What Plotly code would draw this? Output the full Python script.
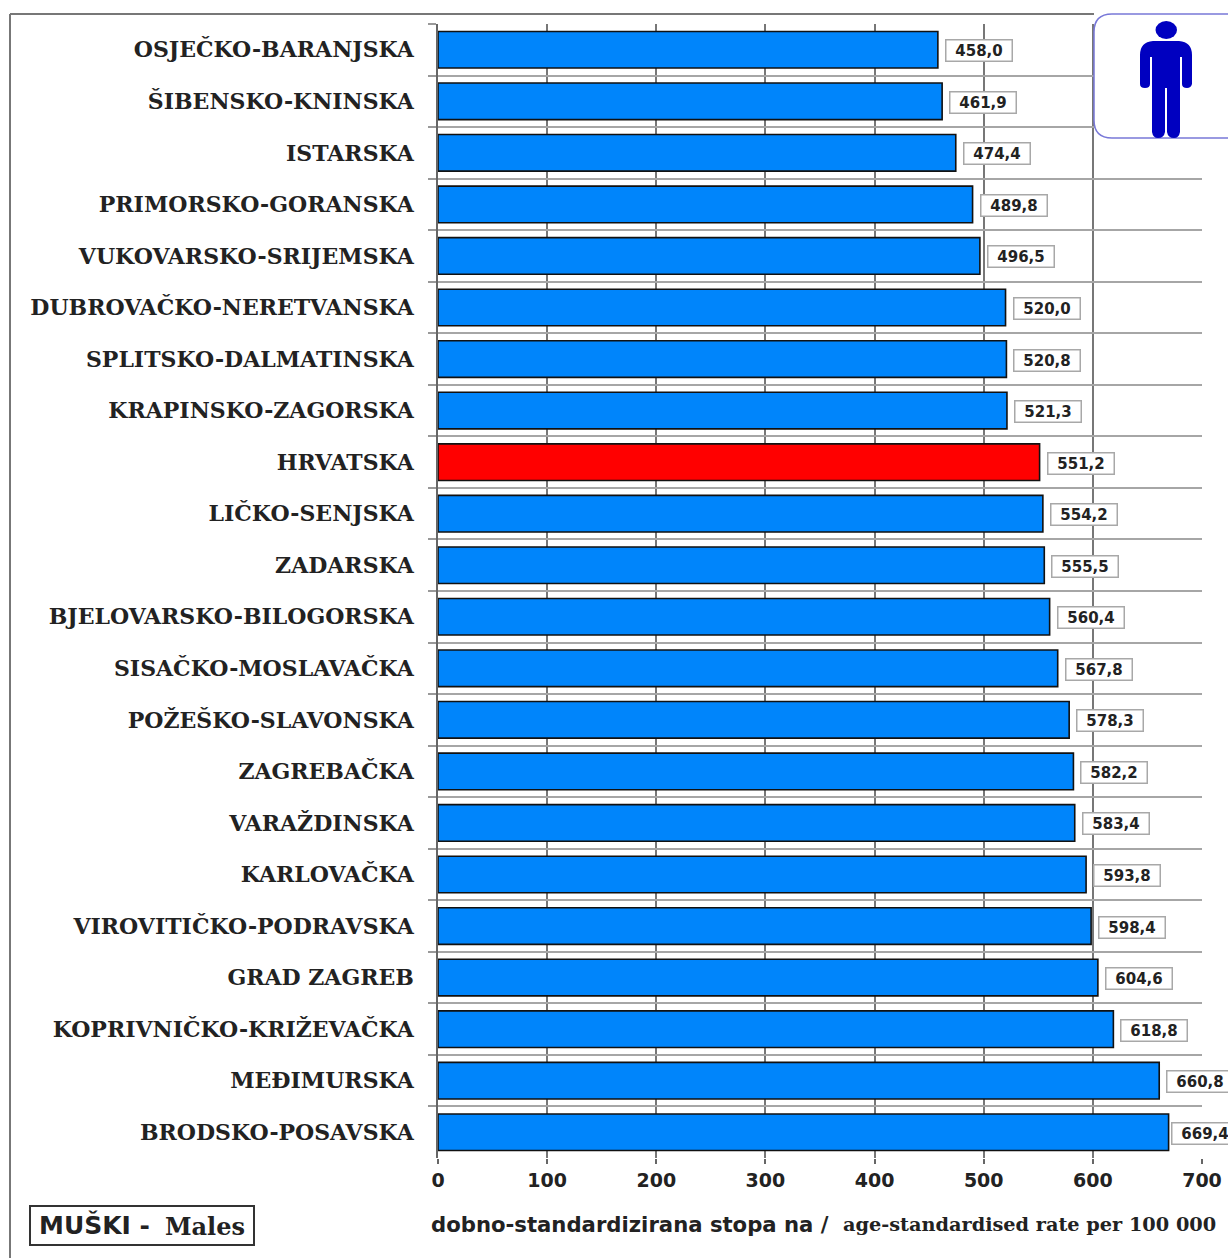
import plotly.graph_objects as go

categories = ["OSJEČKO-BARANJSKA","ŠIBENSKO-KNINSKA","ISTARSKA","PRIMORSKO-GORANSKA","VUKOVARSKO-SRIJEMSKA",
 "DUBROVAČKO-NERETVANSKA","SPLITSKO-DALMATINSKA","KRAPINSKO-ZAGORSKA","HRVATSKA","LIČKO-SENJSKA","ZADARSKA",
 "BJELOVARSKO-BILOGORSKA","SISAČKO-MOSLAVAČKA","POŽEŠKO-SLAVONSKA","ZAGREBAČKA","VARAŽDINSKA","KARLOVAČKA",
 "VIROVITIČKO-PODRAVSKA","GRAD ZAGREB","KOPRIVNIČKO-KRIŽEVAČKA","MEĐIMURSKA","BRODSKO-POSAVSKA"]
values = [458.0,461.9,474.4,489.8,496.5,520.0,520.8,521.3,551.2,554.2,555.5,560.4,567.8,578.3,582.2,583.4,593.8,598.4,604.6,618.8,660.8,669.4]
x_ticks = [0,100,200,300,400,500,600,700]
highlight = "HRVATSKA"

W, H = 1228, 1258
L, R, T, B = 438, 1202, 24, 1158
BLUE, RED, INK, GRID = "#0085fb", "#ff0000", "#222222", "#a6a6a6"
SANS, SERIF = "DejaVu Sans", "DejaVu Serif"

def px(x): return (x - L) / (R - L)
def py(y): return 1 - (y - T) / (B - T)

fig = go.Figure(go.Bar(
    x=values, y=categories, orientation="h",
    marker=dict(color=[RED if c == highlight else BLUE for c in categories], line=dict(color="#111111", width=1.6)),
    width=0.71, hoverinfo="skip"))

anns = []
for c, v in zip(categories, values):
    anns.append(dict(x=v, y=c, xref="x", yref="y", xanchor="left", xshift=7 if v < max(values) else 2, yshift=-1, showarrow=False,
        text=f"{v:.1f}".replace(".", ","), font=dict(family=SANS, size=15, color=INK, weight="bold"),
        width=65, height=20, align="center", valign="middle",
        bgcolor="white", bordercolor="#a8a8a8", borderwidth=1.5, borderpad=0))

def text(x, y, s, fam, size, anchor="left"):
    anns.append(dict(x=px(x), y=py(y), xref="paper", yref="paper", xanchor=anchor, yanchor="middle", showarrow=False,
        text=s, borderpad=0, font=dict(family=fam, size=size, color=INK, weight="bold")))

text(38, 1225, "MUŠKI -", SANS, 25)
text(164, 1226, "Males", SERIF, 24)
text(430, 1224, "dobno-standardizirana stopa na /", SANS, 21.2)
text(842, 1224, "age-standardised rate per 100 000", SERIF, 19.3)

def rect(x0, y0, x1, y1, **kw):
    return dict(type="rect", xref="paper", yref="paper", x0=px(x0), y0=py(y0), x1=px(x1), y1=py(y1), **kw)
def line(x0, y0, x1, y1, color="#777777", width=2):
    return dict(type="line", xref="paper", yref="paper", x0=px(x0), y0=py(y0), x1=px(x1), y1=py(y1), line=dict(color=color, width=width))
def pth(pts_path, **kw):
    return dict(type="path", xref="paper", yref="paper", path=pts_path, **kw)
def P(x, y): return f"{px(x):.5f},{py(y):.5f}"

r = 18
box = (f"M{P(1094+r,14)} L{P(1240,14)} L{P(1240,138)} L{P(1094+r,138)} "
       f"Q{P(1094,138)} {P(1094,138-r)} L{P(1094,14+r)} Q{P(1094,14)} {P(1094+r,14)} Z")
body = (f"M{P(1153,41)} L{P(1179,41)} Q{P(1192,42)} {P(1192,55)} L{P(1192,84)} Q{P(1191,88)} {P(1187,88)} "
        f"Q{P(1182,88)} {P(1182,84)} L{P(1182,57)} L{P(1180,57)} L{P(1180,132)} Q{P(1179,138)} {P(1174,138)} "
        f"Q{P(1168,138)} {P(1167,132)} L{P(1167,88)} L{P(1165,88)} L{P(1165,132)} Q{P(1164,138)} {P(1158,138)} "
        f"Q{P(1153,138)} {P(1152,132)} L{P(1152,57)} L{P(1150,57)} L{P(1150,84)} Q{P(1150,88)} {P(1145,88)} "
        f"Q{P(1140,88)} {P(1140,84)} L{P(1140,55)} Q{P(1140,42)} {P(1153,41)} Z")

shapes = [
    line(10, 14, 1094, 14), line(10, 14, 10, 1258),
    rect(30, 1206, 254, 1245, line=dict(color="#333333", width=2), fillcolor="white", layer="below"),
    pth(box, line=dict(color="#7878d8", width=1.5), fillcolor="white"),
    pth(body, line=dict(width=0), fillcolor="#0000c0"),
    dict(type="circle", xref="paper", yref="paper", x0=px(1155.5), x1=px(1177), y0=py(21), y1=py(39),
         line=dict(width=0), fillcolor="#0000c0"),
]

fig.update_layout(
    width=W, height=H, autosize=False, showlegend=False, plot_bgcolor="white", paper_bgcolor="white",
    margin=dict(l=L, r=W - R, t=T, b=H - B), annotations=anns, shapes=shapes,
    xaxis=dict(range=[0, 700], tickvals=x_ticks, ticks="outside", ticklen=5, tickcolor="#666666", tickwidth=1.5,
               showgrid=True, gridcolor="#777777", gridwidth=1.5, zeroline=False, showline=False, automargin=False,
               tickfont=dict(family=SANS, size=19, color=INK, weight="bold")),
    yaxis=dict(type="category", autorange="reversed", tickson="boundaries", ticks="outside", ticklen=8, automargin=False,
               tickcolor="#999999", tickwidth=1.5, showgrid=True, gridcolor=GRID, gridwidth=2,
               showline=True, linecolor="#666666", linewidth=1.5, ticklabelstandoff=18,
               tickfont=dict(family=SERIF, size=22, color=INK, weight="bold")),
)
fig.write_html("out.html", post_script="document.body.style.margin='0';", config=dict(displayModeBar=False))
